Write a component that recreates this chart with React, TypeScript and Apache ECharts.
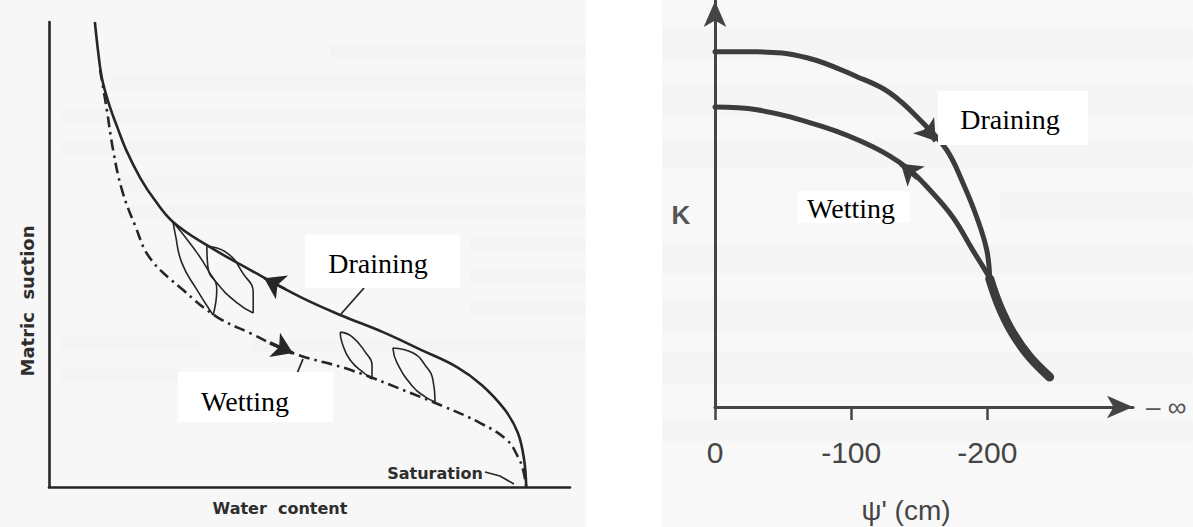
import React, { useEffect, useRef } from "react";
import * as echarts from "echarts";

// ---- Left panel: soil-water characteristic curve (normalised water content %, matric suction %) ----
const drainTheta = [8.8, 9.8, 10.4, 11.7, 13.1, 14.8, 17.5, 20.3, 23.8, 30.3, 38.6, 48.2, 55.9, 64.1, 71.4, 78.3, 83.1, 87.5, 90.0, 91.2, 91.6];
const drainSuction = [100, 90.3, 86.7, 81.7, 77.4, 72.5, 66.5, 61.7, 57.0, 52.0, 46.7, 40.9, 37.0, 33.3, 29.5, 25.8, 21.9, 16.6, 11.6, 5.8, 0];

const wetTheta = [9.8, 11.1, 12.3, 14.0, 16.5, 19.4, 25.7, 32.2, 38.6, 46.8, 57.8, 69.9, 75.6, 82.7, 87.9, 90.0, 91.0, 91.6];
const wetSuction = [89.7, 81.1, 72.5, 63.9, 56.3, 49.2, 42.4, 36.6, 33.1, 28.8, 25.2, 20.0, 17.4, 13.8, 10.1, 6.5, 3.7, 0];

// scanning loops: [theta, suction] along each side of the lens
const loopALeft = [[23.8, 57.0], [24.2, 54.6], [25.5, 48.2], [28.4, 42.4], [31.5, 37.0]];
const loopARight = [[23.8, 57.0], [27.6, 51.6], [30.5, 46.7], [32.2, 42.4], [31.5, 37.0]];
const loopBLeft = [[30.3, 51.8], [30.5, 47.3], [32.2, 43.9], [36.1, 39.6], [39.2, 37.4]];
const loopBRight = [[30.3, 51.8], [34.2, 50.3], [37.2, 46.0], [39.2, 41.7], [39.2, 37.4]];
const loopCLeft = [[55.9, 33.3], [56.2, 31.2], [57.8, 27.3], [60.7, 24.3], [62.0, 23.2]];
const loopCRight = [[55.9, 33.3], [58.2, 32.3], [60.7, 29.0], [62.0, 26.2], [62.0, 23.2]];
const loopDLeft = [[66.0, 29.9], [66.8, 26.7], [69.9, 21.5], [72.2, 19.4], [74.1, 18.3]];
const loopDRight = [[66.0, 29.9], [69.9, 28.8], [72.2, 26.2], [73.7, 23.0], [74.1, 18.3]];

// direction arrows on the main branches: [from, to]
const drainArrowLeft = [[45.3, 42.6], [41.3, 44.9]];
const wetArrowLeft = [[42.4, 31.0], [46.8, 28.8]];

// ---- Right panel: hydraulic conductivity K against pressure head psi (cm) ----
const psiDrain = [0, -30.8, -67.5, -104.2, -128.4, -152.6, -170.2, -182.0, -192.2, -199.6, -201.8];
const kDrain = [0.901, 0.901, 0.886, 0.838, 0.797, 0.721, 0.652, 0.569, 0.482, 0.398, 0.325];
const psiWet = [0, -30.8, -79.2, -115.9, -140.9, -157.7, -174.6, -189.3, -199.6, -201.8];
const kWet = [0.761, 0.754, 0.711, 0.660, 0.607, 0.551, 0.482, 0.398, 0.340, 0.325];
const psiTail = [-201.8, -209.1, -218.6, -231.1, -245.8];
const kTail = [0.325, 0.254, 0.188, 0.127, 0.076];
const psiTicks = [0, -100, -200];

const drainArrowRight = [[-154.8, 0.708], [-162.1, 0.675]];
const wetArrowRight = [[-148.9, 0.581], [-136.5, 0.617]];

const zip = (xs: number[], ys: number[]) => xs.map((x, i) => [x, ys[i]]);

const INK = "#262626";
const INK_R = "#3c3c3c";

const arrowMark = (seg: number[][], color: string, width: number, size: number) => ({
  silent: true,
  symbol: ["none", "arrow"],
  symbolSize: size,
  label: { show: false },
  emphasis: { disabled: true },
  lineStyle: { color, width, type: "solid" },
  data: [[{ coord: seg[0] }, { coord: seg[1] }]],
});

const loopSeries = (pts: number[][]) => ({
  type: "line",
  xAxisIndex: 0,
  yAxisIndex: 0,
  data: pts,
  smooth: 0.5,
  showSymbol: false,
  silent: true,
  lineStyle: { color: INK, width: 1.6 },
});

const serif = '"Liberation Serif", "Times New Roman", serif';
const sansBold = '"DejaVu Sans", sans-serif';
const sans = '"Liberation Sans", Arial, sans-serif';

// faint print-through bands of the scanned page
const ghostLeft = [
  [330, 44, 255, 14], [110, 74, 475, 18], [60, 108, 525, 16], [60, 142, 525, 14],
  [120, 176, 465, 16], [120, 206, 465, 12], [470, 238, 115, 14], [470, 270, 115, 14],
  [470, 302, 115, 14], [60, 336, 140, 14], [250, 338, 335, 14], [60, 368, 120, 14],
];
const ghostRight = [
  [662, 28, 531, 32], [662, 84, 531, 34], [662, 140, 531, 28], [1000, 192, 193, 30],
  [662, 244, 531, 30], [662, 298, 531, 34], [662, 352, 531, 32], [662, 420, 531, 22],
];

export default function App() {
  const ref = useRef<HTMLDivElement>(null);

  useEffect(() => {
    if (!ref.current) return;
    const chart = echarts.init(ref.current, undefined, { renderer: "svg" });

    const ghostRects = [...ghostLeft, ...ghostRight].map(([x, y, w, h]) => ({
      type: "rect",
      z: -9,
      silent: true,
      shape: { x, y, width: w, height: h, r: 4 },
      style: { fill: "#a0a0a0", opacity: 0.035 },
    }));

    const option: any = {
      animation: false,
      backgroundColor: "#ffffff",
      grid: [
        { left: 49, top: 22, width: 521, height: 465 },
        { left: 715, top: 1, width: 418, height: 406 },
      ],
      xAxis: [
        {
          gridIndex: 0,
          type: "value",
          min: 0,
          max: 100,
          axisLine: { show: true, onZero: false, lineStyle: { color: INK, width: 2.6 } },
          axisTick: { show: false },
          axisLabel: { show: false },
          splitLine: { show: false },
        },
        {
          gridIndex: 1,
          type: "value",
          inverse: true,
          min: -307,
          max: 0,
          axisLine: {
            show: true,
            onZero: false,
            symbol: ["none", "arrow"],
            symbolSize: [17, 26],
            lineStyle: { color: "#444", width: 3 },
          },
          axisTick: {
            show: true,
            customValues: psiTicks,
            length: 13,
            inside: false,
            lineStyle: { color: "#444", width: 2.5 },
          },
          axisLabel: {
            show: true,
            customValues: psiTicks,
            margin: 30,
            fontSize: 30,
            fontFamily: sans,
            color: "#454545",
            formatter: (v: number) => String(v),
          },
          splitLine: { show: false },
        },
      ],
      yAxis: [
        {
          gridIndex: 0,
          type: "value",
          min: 0,
          max: 100,
          axisLine: { show: true, onZero: false, lineStyle: { color: INK, width: 2.6 } },
          axisTick: { show: false },
          axisLabel: { show: false },
          splitLine: { show: false },
        },
        {
          gridIndex: 1,
          type: "value",
          min: 0,
          max: 1.03,
          axisLine: {
            show: true,
            onZero: false,
            symbol: ["none", "arrow"],
            symbolSize: [17, 26],
            lineStyle: { color: "#444", width: 3 },
          },
          axisTick: { show: false },
          axisLabel: { show: false },
          splitLine: { show: false },
        },
      ],
      series: [
        {
          name: "Draining",
          type: "line",
          xAxisIndex: 0,
          yAxisIndex: 0,
          data: zip(drainTheta, drainSuction),
          smooth: 0.4,
          showSymbol: false,
          silent: true,
          lineStyle: { color: INK, width: 2.6 },
          markLine: arrowMark(drainArrowLeft, INK, 2.6, 20),
        },
        {
          name: "Wetting",
          type: "line",
          xAxisIndex: 0,
          yAxisIndex: 0,
          data: zip(wetTheta, wetSuction),
          smooth: 0.4,
          showSymbol: false,
          silent: true,
          lineStyle: { color: INK, width: 2.6, type: [11, 5, 2.5, 5] },
          markLine: arrowMark(wetArrowLeft, INK, 3.5, 20),
        },
        loopSeries(loopALeft),
        loopSeries(loopARight),
        loopSeries(loopBLeft),
        loopSeries(loopBRight),
        loopSeries(loopCLeft),
        loopSeries(loopCRight),
        loopSeries(loopDLeft),
        loopSeries(loopDRight),
        {
          name: "Draining K",
          type: "line",
          xAxisIndex: 1,
          yAxisIndex: 1,
          data: zip(psiDrain, kDrain),
          smooth: 0.4,
          showSymbol: false,
          silent: true,
          lineStyle: { color: INK_R, width: 5, cap: "round" },
          markLine: arrowMark(drainArrowRight, INK_R, 5, 20),
        },
        {
          name: "Wetting K",
          type: "line",
          xAxisIndex: 1,
          yAxisIndex: 1,
          data: zip(psiWet, kWet),
          smooth: 0.4,
          showSymbol: false,
          silent: true,
          lineStyle: { color: INK_R, width: 5, cap: "round" },
          markLine: arrowMark(wetArrowRight, INK_R, 5, 20),
        },
        {
          name: "Common K",
          type: "line",
          xAxisIndex: 1,
          yAxisIndex: 1,
          data: zip(psiTail, kTail),
          smooth: 0.4,
          showSymbol: false,
          silent: true,
          lineStyle: { color: INK_R, width: 9, cap: "round" },
        },
      ],
      graphic: {
        elements: [
          { type: "rect", z: -10, silent: true, shape: { x: 0, y: 0, width: 586, height: 527 }, style: { fill: "#f7f7f7" } },
          { type: "rect", z: -10, silent: true, shape: { x: 662, y: 0, width: 531, height: 527 }, style: { fill: "#f8f8f8" } },
          ...ghostRects,
          // leader lines
          { type: "line", z: 40, silent: true, shape: { x1: 364, y1: 288, x2: 341, y2: 314 }, style: { stroke: INK, lineWidth: 1.8 } },
          { type: "line", z: 40, silent: true, shape: { x1: 303, y1: 359, x2: 296, y2: 376 }, style: { stroke: INK, lineWidth: 1.8 } },
          { type: "polyline", z: 40, silent: true, shape: { points: [[485, 472], [500, 476], [514, 484]] }, style: { stroke: INK, lineWidth: 1.6, fill: "none" } },
          // label boxes
          { type: "rect", z: 50, silent: true, shape: { x: 305, y: 235, width: 155, height: 53 }, style: { fill: "#ffffff" } },
          { type: "rect", z: 50, silent: true, shape: { x: 178, y: 372, width: 155, height: 50 }, style: { fill: "#ffffff" } },
          { type: "rect", z: 50, silent: true, shape: { x: 938, y: 91, width: 150, height: 54 }, style: { fill: "#ffffff" } },
          { type: "rect", z: 50, silent: true, shape: { x: 797, y: 191, width: 113, height: 32 }, style: { fill: "#ffffff" } },
          { type: "text", z: 51, silent: true, x: 378, y: 263, style: { text: "Draining", fontSize: 28, fontFamily: serif, fill: "#000", align: "center", verticalAlign: "middle" } },
          { type: "text", z: 51, silent: true, x: 245, y: 401, style: { text: "Wetting", fontSize: 28, fontFamily: serif, fill: "#000", align: "center", verticalAlign: "middle" } },
          { type: "text", z: 51, silent: true, x: 1010, y: 119, style: { text: "Draining", fontSize: 28, fontFamily: serif, fill: "#000", align: "center", verticalAlign: "middle" } },
          { type: "text", z: 51, silent: true, x: 851, y: 208, style: { text: "Wetting", fontSize: 28, fontFamily: serif, fill: "#000", align: "center", verticalAlign: "middle" } },
          // axis captions
          { type: "text", z: 51, silent: true, x: 27, y: 301, rotation: Math.PI / 2, style: { text: "Matric  suction", fontSize: 18, fontWeight: "bold", fontFamily: sansBold, fill: "#2e2e2e", align: "center", verticalAlign: "middle" } },
          { type: "text", z: 51, silent: true, x: 280, y: 508, style: { text: "Water  content", fontSize: 16, fontWeight: "bold", fontFamily: sansBold, fill: "#2e2e2e", align: "center", verticalAlign: "middle" } },
          { type: "text", z: 51, silent: true, x: 435, y: 473, style: { text: "Saturation", fontSize: 16, fontWeight: "bold", fontFamily: sansBold, fill: "#2e2e2e", align: "center", verticalAlign: "middle" } },
          { type: "text", z: 51, silent: true, x: 681, y: 215, style: { text: "K", fontSize: 26, fontWeight: "bold", fontFamily: sans, fill: "#555", align: "center", verticalAlign: "middle" } },
          { type: "text", z: 51, silent: true, x: 906, y: 510, style: { text: "ψ' (cm)", fontSize: 28, fontFamily: sans, fill: "#454545", align: "center", verticalAlign: "middle" } },
          { type: "text", z: 51, silent: true, x: 1146, y: 407, style: { text: "– ∞", fontSize: 26, fontFamily: sans, fill: "#555", align: "left", verticalAlign: "middle" } },
        ],
      },
    };

    chart.setOption(option);
    return () => chart.dispose();
  }, []);

  return (
    <div
      ref={ref}
      style={{ position: "fixed", left: 0, top: 0, width: 1193, height: 527 }}
    />
  );
}
